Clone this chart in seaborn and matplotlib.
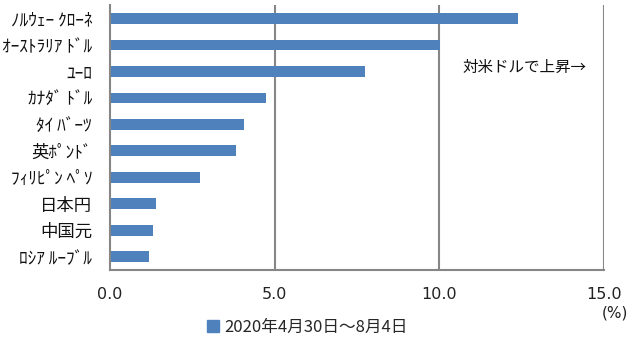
import matplotlib
matplotlib.use("Agg")
import matplotlib.pyplot as plt
import seaborn as sns
import pandas as pd
from matplotlib.patches import Patch

currencies = ["ﾉﾙｳｪｰ ｸﾛｰﾈ", "ｵｰｽﾄﾗﾘｱ ﾄﾞﾙ", "ﾕｰﾛ", "ｶﾅﾀﾞ ﾄﾞﾙ", "ﾀｲ ﾊﾞｰﾂ",
              "英ﾎﾟﾝﾄﾞ", "ﾌｨﾘﾋﾟﾝ ﾍﾟｿ", "日本円", "中国元", "ﾛｼｱ ﾙｰﾌﾞﾙ"]
changes = [12.38, 10.03, 7.75, 4.73, 4.07, 3.82, 2.73, 1.38, 1.31, 1.19]
series_label = "2020年4月30日～8月4日"
x_ticks = [0, 5, 10, 15]
x_tick_labels = ["0.0", "5.0", "10.0", "15.0"]
annotation = "対米ドルで上昇→"
unit_label = "(%)"

sns.set_theme(style="white")
plt.rcParams['font.family'] = ['Noto Sans CJK JP', 'DejaVu Sans']

df = pd.DataFrame({"currency": currencies, "change": changes})

fig = plt.figure(figsize=(6.4, 3.43), dpi=100)
ax = fig.add_axes([0.172, 0.213, 0.772, 0.772])

bar_color = "#4F81BD"
grid_color = "#868686"

sns.barplot(data=df, x="change", y="currency", color=bar_color,
            orient="h", width=0.4, ax=ax, saturation=1,
            linewidth=0, edgecolor=bar_color)

ax.set_xlim(0, 15)
ax.set_ylim(9.5, -0.5)
ax.set_xlabel("")
ax.set_ylabel("")

for xv in x_ticks[1:]:
    ax.axvline(xv, color=grid_color, lw=1.5, zorder=0)

for side in ["top", "right"]:
    ax.spines[side].set_visible(False)
for side in ["left", "bottom"]:
    ax.spines[side].set_color(grid_color)
    ax.spines[side].set_linewidth(1.5)

ax.set_xticks(x_ticks)
ax.set_xticklabels(x_tick_labels, family="DejaVu Sans", fontsize=11.5)
ax.tick_params(axis="x", length=0, pad=12, colors="#222222")
ax.tick_params(axis="y", which="major", length=0, pad=13, labelsize=12.5, colors="#111111")
ax.set_yticks([i - 0.5 for i in range(len(currencies) + 1)], minor=True)
ax.tick_params(axis="y", which="minor", direction="in", length=5, width=1.5, color=grid_color)

ax.text(10.7, 1.85, annotation, fontsize=11.2, va="center", ha="left", color="#111111")

fig.text(0.961, 0.088, unit_label, fontsize=11, ha="center", va="center",
         family="DejaVu Sans", color="#222222")

handle = Patch(facecolor=bar_color, edgecolor=bar_color)
fig.legend([handle], [series_label], loc="center", bbox_to_anchor=(0.48, 0.045),
           frameon=False, fontsize=12, handlelength=0.7, handleheight=0.7,
           handletextpad=0.3)

fig.savefig("out.png", dpi=100)
